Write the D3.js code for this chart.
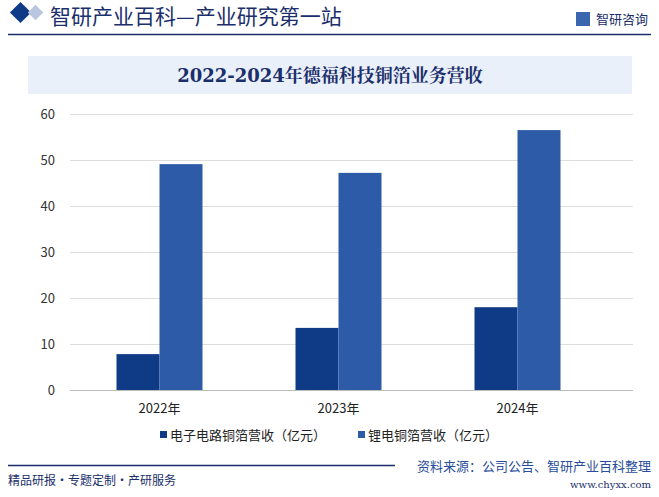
<!DOCTYPE html><html><head><meta charset="utf-8">
<script src="https://cdn.jsdelivr.net/npm/d3@7"></script>
<style>body{margin:0;background:#fff}svg{display:block}</style></head><body>
<svg id="c" width="659" height="497"></svg>
<script>
const categories=["2022年","2023年","2024年"];
const pcbCopper=[7.8,13.5,18.0];
const liCopper=[49.1,47.2,56.5];
const seriesNames=["电子电路铜箔营收（亿元）","锂电铜箔营收（亿元）"];
const colors=["#0f3a86","#2e5ba8"];
const yTicks=[0,10,20,30,40,50,60];
const svg=d3.select("#c");
const F="'Noto Sans CJK SC','Noto Sans',sans-serif";
// header
svg.append("rect").attr("x",13).attr("y",5).attr("width",15).attr("height",15).attr("transform","rotate(45,20.5,12.5)").attr("fill","#0f3a86");
svg.append("rect").attr("x",30).attr("y",7).attr("width",11).attr("height",11).attr("transform","rotate(45,35.5,12.5)").attr("fill","#b9c6e0");
svg.append("text").attr("x",50).attr("y",24).attr("font-family",F).attr("font-size",21).attr("fill","#1a2f6b").text("智研产业百科—产业研究第一站");
svg.append("line").attr("x1",8).attr("x2",651).attr("y1",34.5).attr("y2",34.5).attr("stroke","#1a2f6b").attr("stroke-width",1.5);
svg.append("text").attr("x",648).attr("y",24).attr("text-anchor","end").attr("font-family",F).attr("font-size",13).attr("fill","#1a2f6b").text("智研咨询");
svg.append("rect").attr("x",576).attr("y",12).attr("width",14).attr("height",14).attr("fill","#3a66b0");
svg.append("rect").attr("x",28).attr("y",56).attr("width",604).attr("height",38).attr("fill","#eaf0f9");
svg.append("text").attr("x",330).attr("y",82).attr("text-anchor","middle").attr("font-family","'DejaVu Serif','Noto Serif CJK SC',serif").attr("font-weight","bold").attr("font-size",18).attr("fill","#1a2f6b").text("2022-2024年德福科技铜箔业务营收");
// plot
const y=d3.scaleLinear().domain([0,60]).range([390,114]);
const x=d3.scaleBand().domain(categories).range([70,607]);
const gx=70,gx2=633;
yTicks.forEach(t=>{
 svg.append("line").attr("x1",gx).attr("x2",gx2).attr("y1",y(t)+.5).attr("y2",y(t)+.5).attr("stroke",t==0?"#bbb":"#ddd");
 svg.append("text").attr("x",55).attr("y",y(t)+5).attr("text-anchor","end").attr("font-family",F).attr("font-size",13).attr("fill","#333").text(t);
});
const bw=43;
[pcbCopper,liCopper].forEach((s,i)=>{
 svg.selectAll(null).data(s).join("rect")
  .attr("x",(d,j)=>x(categories[j])+x.bandwidth()/2+(i?0:-bw))
  .attr("width",bw).attr("y",d=>y(d)).attr("height",d=>390-y(d)).attr("fill",colors[i]);
});
categories.forEach(c=>svg.append("text").attr("x",x(c)+x.bandwidth()/2).attr("y",413).attr("text-anchor","middle").attr("font-family",F).attr("font-size",13).attr("fill","#222").text(c));
// legend
const lg=[[160,seriesNames[0]],[358,seriesNames[1]]];
lg.forEach(([lx,t],i)=>{
 svg.append("rect").attr("x",lx).attr("y",431).attr("width",7).attr("height",7).attr("fill",colors[i]);
 svg.append("text").attr("x",lx+10).attr("y",440).attr("font-family",F).attr("font-size",13).attr("fill","#222").text(t);
});
// footer
svg.append("line").attr("x1",8).attr("x2",395).attr("y1",465.5).attr("y2",465.5).attr("stroke","#1a2f6b").attr("stroke-width",1.5);
svg.append("text").attr("x",8).attr("y",485).attr("font-family",F).attr("font-size",12).attr("fill","#1a2f6b").text("精品研报・专题定制・产研服务");
svg.append("text").attr("x",651).attr("y",471).attr("text-anchor","end").attr("font-family",F).attr("font-size",13).attr("fill","#2a4d9b").text("资料来源：公司公告、智研产业百科整理");
svg.append("text").attr("x",651).attr("y",488).attr("text-anchor","end").attr("font-family","'DejaVu Serif',serif").attr("font-size",10).attr("fill","#1a2f6b").text("www.chyxx.com");
</script></body></html>
